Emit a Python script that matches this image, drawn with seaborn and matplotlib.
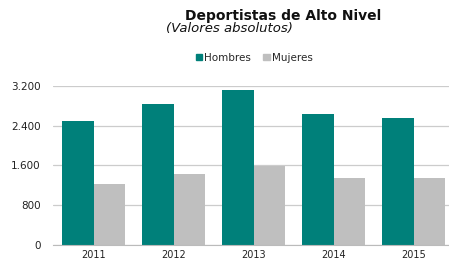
import pandas as pd
import matplotlib.pyplot as plt
import seaborn as sns
from matplotlib.ticker import FuncFormatter

anios = ['2011', '2012', '2013', '2014', '2015']
hombres = [2500, 2830, 3115, 2630, 2545]
mujeres = [1225, 1420, 1595, 1355, 1340]
series = ['Hombres', 'Mujeres']
colores = ['#00807a', '#bfbfbf']

sns.set_style('white')

df = pd.DataFrame({
    'anio': anios * 2,
    'valor': hombres + mujeres,
    'serie': ['Hombres'] * len(anios) + ['Mujeres'] * len(anios),
})

fig = plt.figure(figsize=(4.49, 2.59), dpi=100)
ax = fig.add_axes([0.118, 0.054, 0.882, 0.615])

sns.barplot(data=df, x='anio', y='valor', hue='serie', palette=colores,
            width=0.79, saturation=1, linewidth=0, ax=ax, legend=False)

ax.set_ylim(0, 3200)
ax.set_xlim(-0.51, 4.44)
ax.set_yticks([0, 800, 1600, 2400, 3200])
ax.yaxis.set_major_formatter(FuncFormatter(lambda v, p: f'{int(v):,}'.replace(',', '.')))
ax.grid(axis='y', color='#cccccc', linewidth=0.9)
ax.set_axisbelow(True)
for s in ['top', 'right', 'left']:
    ax.spines[s].set_visible(False)
ax.spines['bottom'].set_color('#bbbbbb')
ax.tick_params(axis='both', length=0, labelsize=7, colors='#222222')
ax.tick_params(axis='y', labelsize=7.5, pad=9)
ax.set_xlabel('')
ax.set_ylabel('')

fig.text(0.63, 0.94, 'Deportistas de Alto Nivel', ha='center', va='center',
         fontsize=10, fontweight='bold', color='#111111')
fig.text(0.37, 0.89, '(Valores absolutos)', ha='left', va='center',
         fontsize=9.5, style='italic', color='#111111')

handles = [plt.Rectangle((0, 0), 1, 1, color=c) for c in colores]
fig.legend(handles, series, loc='center', bbox_to_anchor=(0.566, 0.777), ncol=2,
           frameon=False, fontsize=7.5, handlelength=0.6, handleheight=0.6,
           handletextpad=0.2, columnspacing=1.2)

fig.savefig('out.png', dpi=100)
